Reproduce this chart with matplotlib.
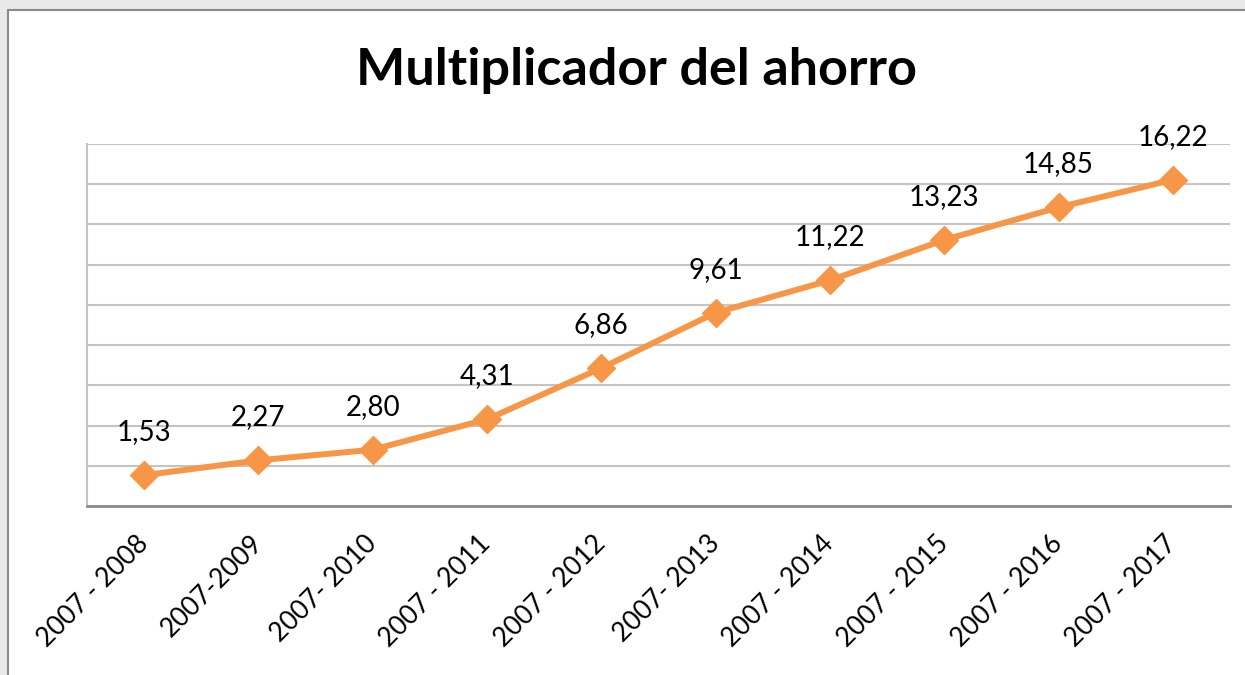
import matplotlib.pyplot as plt
from matplotlib.patches import Rectangle

# data
periodos = ["2007 - 2008", "2007-2009", "2007- 2010", "2007 - 2011", "2007 - 2012",
            "2007- 2013", "2007 - 2014", "2007 - 2015", "2007 - 2016", "2007 - 2017"]
valores = [1.53, 2.27, 2.80, 4.31, 6.86, 9.61, 11.22, 13.23, 14.85, 16.22]
etiquetas = ["1,53", "2,27", "2,80", "4,31", "6,86", "9,61", "11,22", "13,23", "14,85", "16,22"]

naranja = "#F79646"
plt.rcParams['font.family'] = ['Lato', 'DejaVu Sans']

fig = plt.figure(figsize=(12.45, 6.75), dpi=100)
fig.patch.set_facecolor("#e9e9e9")

# white chart area with grey frame
W, H = 1245, 675
fig.patches.append(Rectangle((8 / W, -0.05), 1.1, 1 - 10 / H + 0.05, transform=fig.transFigure,
                             facecolor="white", edgecolor="#8a8a8a", linewidth=1.5, zorder=-1))

ax = fig.add_axes([87 / W, 1 - 506 / H, (1230 - 87) / W, (506 - 144) / H])
ax.set_zorder(1)
ax.set_facecolor("white")

x = list(range(len(valores)))
ax.plot(x, valores, color=naranja, linewidth=4.3, marker="D", markersize=14,
        markerfacecolor=naranja, markeredgecolor=naranja, zorder=3)

for xi, v, t in zip(x, valores, etiquetas):
    ax.annotate(t, (xi, v), xytext=(0, 31), textcoords="offset points",
                ha="center", va="center", fontsize=20, color="black")

ax.set_xlim(-0.5, len(valores) - 0.5)
ax.set_ylim(0, 18)
ax.set_yticks(range(0, 19, 2))
ax.set_yticklabels([])
ax.tick_params(axis="y", length=0)
ax.grid(axis="y", color="#c4c4c4", linewidth=1.5)
ax.set_axisbelow(True)

ax.set_xticks(x)
ax.set_xticklabels(periodos, rotation=45, ha="right", va="center",
                   rotation_mode="anchor", fontsize=19)
ax.tick_params(axis="x", length=0, pad=24)

for s in ["top", "right"]:
    ax.spines[s].set_visible(False)
ax.spines["left"].set_color("#c4c4c4")
ax.spines["left"].set_linewidth(1.5)
ax.spines["bottom"].set_color("#8a8a8a")
ax.spines["bottom"].set_linewidth(2)

fig.text(636 / W, 1 - 70 / H, "Multiplicador del ahorro", ha="center", va="center",
         fontsize=37.5, fontweight="bold", color="black")

plt.savefig("out.png", dpi=100, facecolor=fig.get_facecolor())
